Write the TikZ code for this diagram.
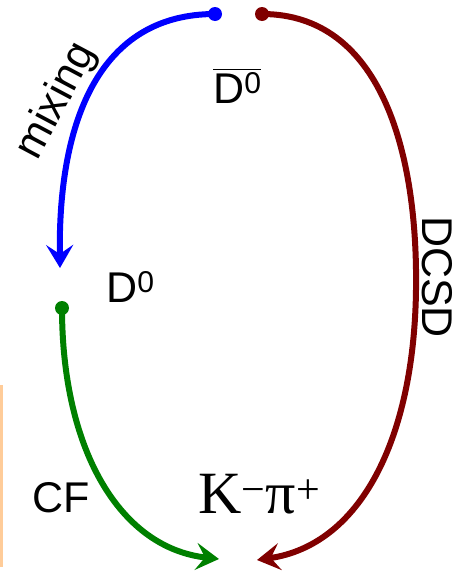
\documentclass[tikz,border=0pt]{standalone}
\usepackage{fontspec}
\setmainfont{Liberation Sans}
\newfontfamily\tnr{Liberation Serif}
\usetikzlibrary{arrows.meta}
\definecolor{mblue}{RGB}{0,0,255}
\definecolor{mred}{RGB}{128,0,0}
\definecolor{mgreen}{RGB}{0,128,0}
\definecolor{morange}{RGB}{255,204,153}
\tikzset{
  dotnode/.style={circle,inner sep=0pt,minimum size=14pt},
  flow/.style={line width=6pt,-{Stealth[length=23pt,width=27pt,inset=9pt]}},
  lbl/.style={inner sep=0pt,font=\fontsize{43}{48}\selectfont}
}
\begin{document}
\begin{tikzpicture}[x=1pt,y=-1pt]
\useasboundingbox (0,0) rectangle (459,576);
\draw[morange,line width=2.5pt] (1.5,385) -- (1.5,567);
% dots
\node[dotnode,fill=mblue] (b0) at (215,14) {};
\node[dotnode,fill=mred] (r0) at (262,14) {};
\node[dotnode,fill=mgreen] (g0) at (62,308) {};
\coordinate (b1) at (60,268);
\coordinate (r1) at (257,560);
\coordinate (g1) at (219,559);
% curves
\draw[flow,mblue] (b0.center) .. controls (100,14) and (58,120) .. (b1);
\draw[flow,mred] (r0.center) .. controls (380,14) and (418,150) .. (416,290)
   .. controls (414,440) and (360,545) .. (r1);
\draw[flow,mgreen] (g0.center) .. controls (62,450) and (120,548) .. (g1);
% labels
\node[lbl,rotate=62] (mix) at (57,101) {mixing};
\node[lbl,anchor=base west] (dbar) at (213,103) {$\overline{\hbox{\rule{0pt}{32pt}D\textsuperscript{0}}}$};
\node[lbl,anchor=base west] (d0) at (106,302) {D\textsuperscript{0}};
\node[lbl,rotate=-90] (dcsd) at (437,277) {DCSD};
\node[lbl,anchor=base west] (cf) at (32,512) {CF};
\node[inner sep=0pt,anchor=base west,font=\tnr\fontsize{60}{64}\selectfont] (kpi) at (198,513) {K\textsuperscript{−}π\textsuperscript{+}};
\end{tikzpicture}
\end{document}
